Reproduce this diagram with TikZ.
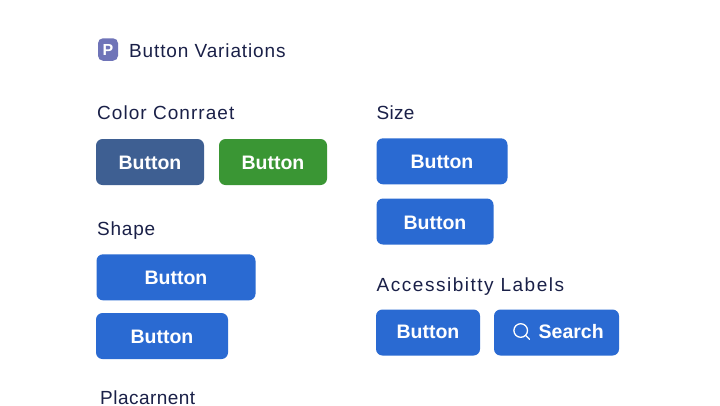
\documentclass[tikz,border=0pt]{standalone}
\usepackage{fontspec}
\setmainfont{Liberation Sans}[LetterSpace=4.6]
\newfontfamily\btnfont{Liberation Sans}
\newfontfamily\colorfont{Liberation Sans}[LetterSpace=5.5]
\newfontfamily\sizefont{Liberation Sans}[LetterSpace=1.5]
\newfontfamily\placefont{Liberation Sans}[LetterSpace=2.5]
\newfontfamily\accfont{Liberation Sans}[LetterSpace=8]
\newfontfamily\shapefont{Liberation Sans}[LetterSpace=4]
\definecolor{inkc}{HTML}{1A2048}
\definecolor{bluec}{HTML}{2A6AD2}
\definecolor{navyc}{HTML}{3E5F92}
\definecolor{greenc}{HTML}{3A9634}
\definecolor{iconc}{HTML}{6F74B8}
\tikzset{
  btn/.style={rounded corners=6.5pt,inner sep=0pt,minimum height=46pt,text=white,
    text height=14pt,text depth=0pt,
    font=\btnfont\fontsize{19.5}{19.5}\selectfont\bfseries},
  blue btn/.style={btn,fill=bluec},
  heading/.style={anchor=base west,inner sep=0pt,text=inkc},
  glass/.style={draw=white,line width=1.3pt,line cap=round}
}
\newcommand{\headsz}{\fontsize{19}{19}\selectfont}
\begin{document}
\begin{tikzpicture}[x=1pt,y=-1pt]
\path[use as bounding box] (0,0) rectangle (720,405);
\clip (0,0) rectangle (720,405);
\fill[white] (0,0) rectangle (720,405);
% title
\node[rounded corners=5pt,fill=iconc,minimum width=20pt,minimum height=22.5pt,inner sep=0pt,text=white,font=\btnfont\fontsize{16}{16}\selectfont\bfseries] (icon) at (108,49.5) {P};
\node[heading,font=\headsz] (title) at (129,57) {Button Variations};
% left column
\node[heading,font=\colorfont\headsz] (color) at (97,119) {Color Conrraet};
\node[btn,fill=navyc,minimum width=108pt] (b1) at (150,162) {Button};
\node[btn,fill=greenc,minimum width=108pt] (b2) at (273,162) {Button};
\node[heading,font=\shapefont\headsz] (shape) at (97,235) {Shape};
\node[blue btn,minimum width=159pt] (b3) at (176,277.3) {Button};
\node[blue btn,minimum width=132pt] (b4) at (162,336) {Button};
\node[heading,font=\placefont\headsz] (place) at (100,404.5) {Placarnent};
% right column
\node[heading,font=\sizefont\headsz] (size) at (376.5,119) {Size};
\node[blue btn,minimum width=131pt,text height=15pt] (b5) at (442,161.3) {Button};
\node[blue btn,minimum width=117pt,text height=15pt] (b6) at (435,221.5) {Button};
\node[heading,font=\accfont\headsz] (acc) at (376.5,291.5) {Accessibitty Labels};
\node[blue btn,minimum width=104pt,text height=12pt] (b7) at (428,332.5) {Button};
\node[blue btn,minimum width=125pt] (b8) at (556.5,332.5) {};
\node[anchor=base west,inner sep=0pt,text=white,font=\btnfont\fontsize{19.5}{19.5}\selectfont\bfseries] (srch) at (538.5,338.5) {Search};
\draw[glass] (520.7,330.5) circle (6.8);
\draw[glass] (525.6,335.4) -- (529.5,339.3);
\end{tikzpicture}
\end{document}
